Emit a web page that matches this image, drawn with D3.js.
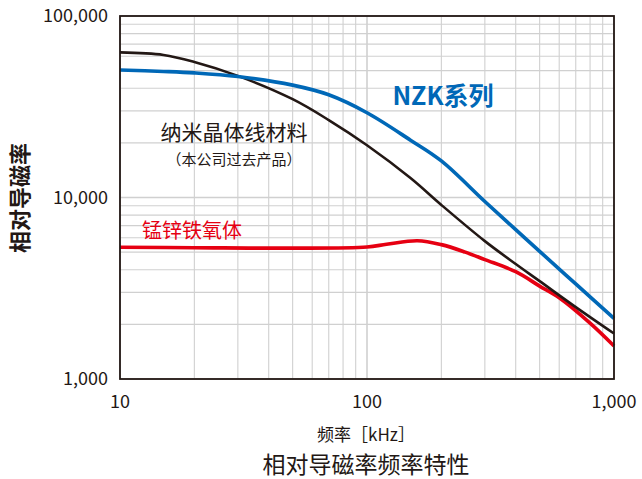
<!DOCTYPE html>
<html>
<head>
<meta charset="utf-8">
<script src="https://cdn.jsdelivr.net/npm/d3@7"></script>
<style>
  body { margin: 0; background: #fff; }
  text { font-family: "Noto Sans CJK SC", "Noto Sans", sans-serif; }
</style>
</head>
<body>
<div id="chart"></div>
<script>
// frequency (kHz) and relative permeability
let nzkFreq  = [10, 15, 20, 30, 50, 70, 100, 150, 200, 300, 400, 500, 700, 1000];
let nzkVals  = [50400, 49500, 48600, 46400, 41600, 36800, 29300, 20700, 15900, 9500, 6650, 5050, 3340, 2160];

let nanoFreq = [10, 15, 20, 30, 50, 70, 100, 150, 200, 300, 400, 500, 700, 1000];
let nanoVals = [63000, 61000, 55800, 46800, 34800, 26700, 19400, 12800, 9100, 5750, 4300, 3460, 2490, 1780];

let mnznFreq = [10, 20, 50, 100, 120, 160, 200, 250, 300, 400, 500, 600, 800, 1000];
let mnznVals = [5320, 5290, 5260, 5340, 5520, 5780, 5500, 5000, 4550, 3900, 3250, 2800, 2030, 1520];

let xTickVals = [10, 100, 1000];
let xTickText = ["10", "100", "1,000"];
let yTickVals = [1000, 10000, 100000];
let yTickText = ["1,000", "10,000", "100,000"];

let W = 642, H = 479;
let mL = 120, mR = 614, mT = 16, mB = 379;
let ink = "#231815";

let svg = d3.select("#chart").append("svg")
    .attr("width", W)
    .attr("height", H)

let x = d3.scaleLog().domain([10, 1000]).range([mL, mR]);
let y = d3.scaleLog().domain([1000, 100000]).range([mB, mT]);

// grid
let grid = svg.append("g");
grid.selectAll(".vg")
    .data(x.ticks())
    .enter()
    .append("line")
    .attr("x1", d => x(d)).attr("x2", d => x(d))
    .attr("y1", mT).attr("y2", mB)
    .attr("stroke", "#d0d0d0")
    .attr("stroke-width", d => xTickVals.includes(d) ? 1.6 : 1.1);

grid.selectAll(".hg")
    .data(y.ticks())
    .enter()
    .append("line")
    .attr("x1", mL).attr("x2", mR)
    .attr("y1", d => y(d)).attr("y2", d => y(d))
    .attr("stroke", "#d0d0d0")
    .attr("stroke-width", d => yTickVals.includes(d) ? 1.6 : 1.1);

// curves
let line = d3.line()
    .x(d => x(d[0]))
    .y(d => y(d[1]))
    .curve(d3.curveCatmullRom.alpha(0.5));

let series = [
    {f: mnznFreq, v: mnznVals, color: "#e60012", w: 3.6},
    {f: nanoFreq, v: nanoVals, color: ink, w: 2.6},
    {f: nzkFreq, v: nzkVals, color: "#0068b7", w: 3.6}
];

svg.selectAll(".curve")
    .data(series)
    .enter()
    .append("path")
    .attr("d", s => line(s.f.map((f, i) => [f, s.v[i]])))
    .attr("fill", "none")
    .attr("stroke", s => s.color)
    .attr("stroke-width", s => s.w)
    .attr("stroke-linejoin", "round");

// frame
svg.append("rect")
    .attr("x", mL).attr("y", mT)
    .attr("width", mR - mL).attr("height", mB - mT)
    .attr("fill", "none")
    .attr("stroke", ink)
    .attr("stroke-width", 1.8);

// tick labels
svg.selectAll(".yt")
    .data(yTickVals)
    .enter()
    .append("text")
    .attr("x", 108)
    .attr("y", d => y(d) + 6)
    .attr("text-anchor", "end")
    .attr("font-size", 18)
    .attr("fill", ink)
    .text((d, i) => yTickText[i]);

svg.selectAll(".xt")
    .data(xTickVals)
    .enter()
    .append("text")
    .attr("x", d => x(d))
    .attr("y", 408)
    .attr("text-anchor", "middle")
    .attr("font-size", 18)
    .attr("fill", ink)
    .text((d, i) => xTickText[i]);

// axis titles
svg.append("text")
    .attr("x", 366).attr("y", 441)
    .attr("text-anchor", "middle")
    .attr("font-size", 17)
    .attr("fill", ink)
    .text("频率［kHz］");

svg.append("text")
    .attr("x", 366).attr("y", 473)
    .attr("text-anchor", "middle")
    .attr("font-size", 23)
    .attr("fill", ink)
    .text("相对导磁率频率特性");

svg.append("text")
    .attr("transform", "translate(28,198) rotate(-90)")
    .attr("text-anchor", "middle")
    .attr("font-size", 22)
    .attr("font-weight", "bold")
    .attr("fill", ink)
    .text("相对导磁率");

// series labels
svg.append("text")
    .attr("x", 443).attr("y", 105)
    .attr("text-anchor", "middle")
    .attr("font-size", 25)
    .attr("font-weight", "bold")
    .attr("fill", "#0068b7")
    .text("NZK系列");

svg.append("text")
    .attr("x", 234).attr("y", 140)
    .attr("text-anchor", "middle")
    .attr("font-size", 21)
    .attr("fill", ink)
    .text("纳米晶体线材料");

svg.append("text")
    .attr("x", 234).attr("y", 165)
    .attr("text-anchor", "middle")
    .attr("font-size", 15)
    .attr("fill", ink)
    .text("（本公司过去产品）");

svg.append("text")
    .attr("x", 192).attr("y", 238)
    .attr("text-anchor", "middle")
    .attr("font-size", 20)
    .attr("fill", "#e60012")
    .text("锰锌铁氧体");
</script>
</body>
</html>
